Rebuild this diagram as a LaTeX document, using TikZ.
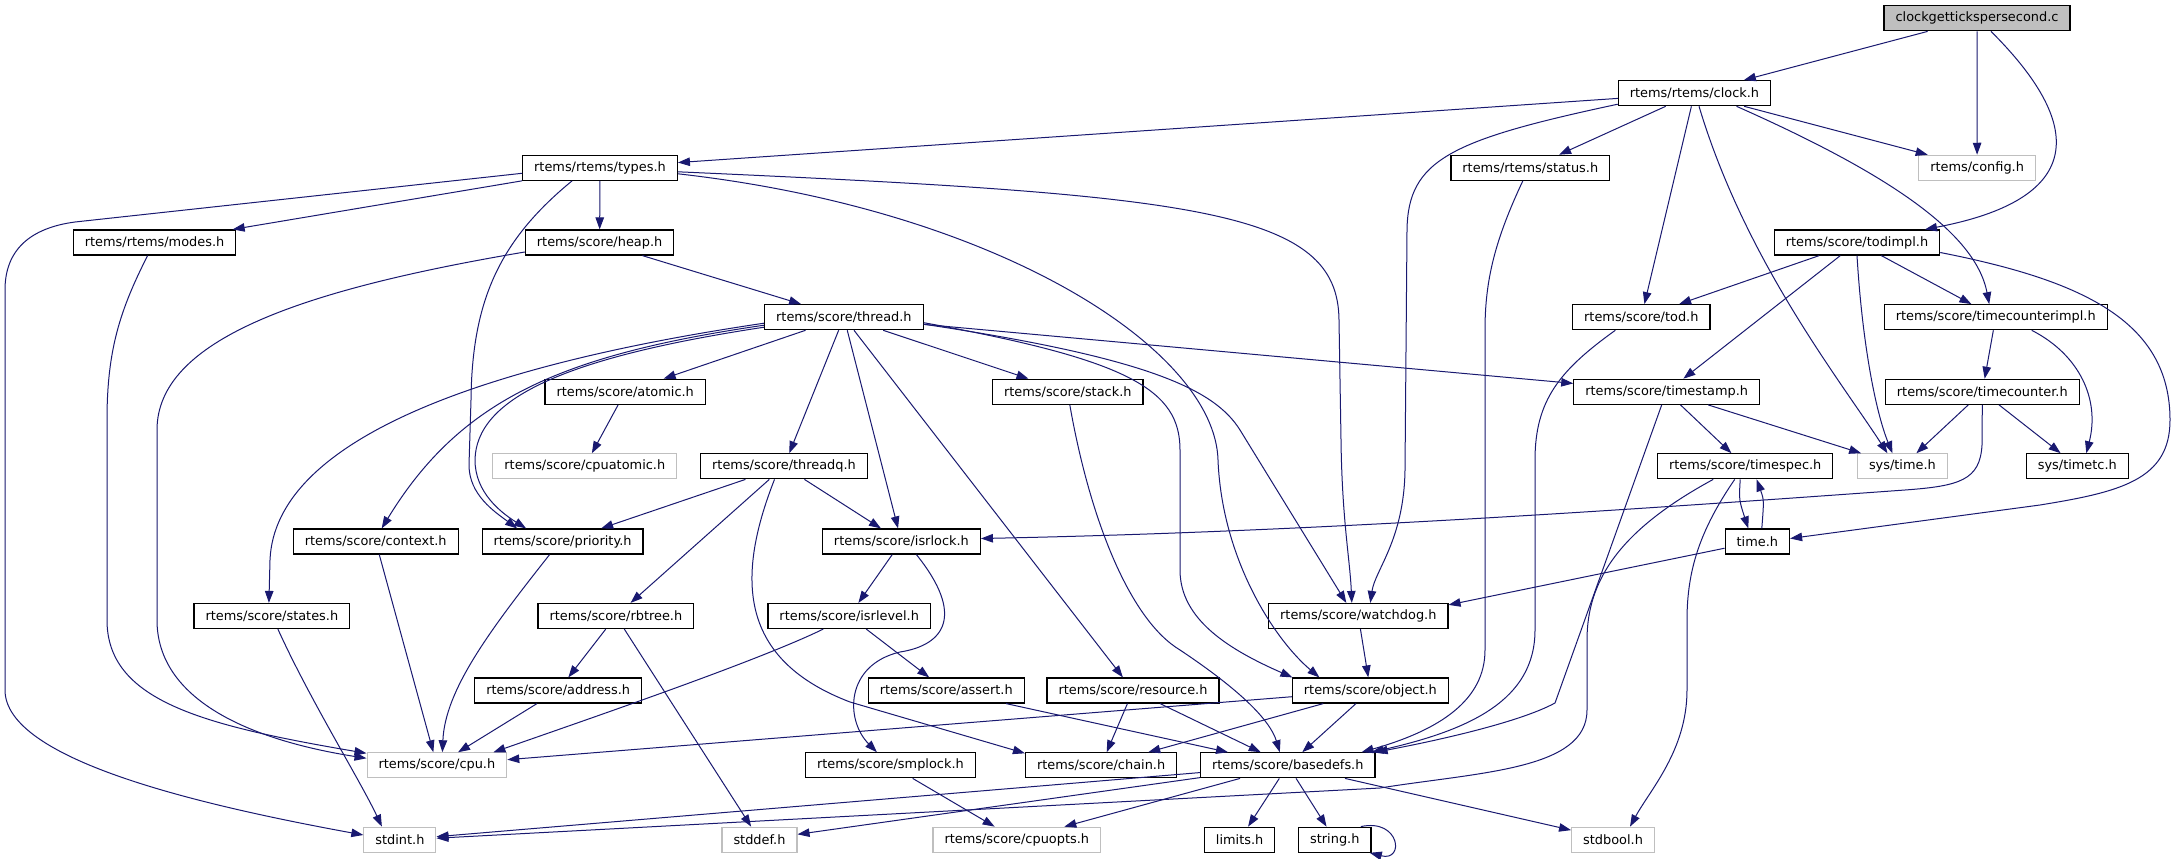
\documentclass[tikz,border=0pt]{standalone}
\usepackage{fontspec}
\setmainfont{DejaVu Sans}
\usetikzlibrary{arrows.meta}
\definecolor{edgeblue}{HTML}{191970}
\definecolor{grey75}{HTML}{BFBFBF}
\tikzset{
	file/.style={rectangle,draw=black,line width=1.2pt,fill=white,minimum height=25pt,inner xsep=11.5pt,inner ysep=0pt,font=\fontsize{12.9pt}{15pt}\selectfont},
	extfile/.style={draw=grey75,line width=1.1pt},
	mainfile/.style={fill=grey75},
	dep/.style={draw=edgeblue,line width=1pt,-{Triangle[length=12pt,width=8.5pt]}}
}
\begin{document}
\begin{tikzpicture}[x=1pt,y=-1pt]
			\path[fill=white] (0,0) rectangle (2176,859);
			\useasboundingbox (0,0) rectangle (2176,859);
			
			\begin{scope}[every node/.style={file}]
				\node[mainfile] (Ticks) at (1977,18.3) {clockgettickspersecond.c};
				\node (Clock) at (1694.5,93.2) {rtems/rtems/clock.h};
				\node (Types) at (600,167.8) {rtems/rtems/types.h};
				\node (Status) at (1530.3,167.8) {rtems/rtems/status.h};
				\node[extfile] (Config) at (1977.1,167.8) {rtems/config.h};
				\node (Modes) at (154.6,242.5) {rtems/rtems/modes.h};
				\node (Heap) at (599.6,242.5) {rtems/score/heap.h};
				\node (Todimpl) at (1857,242.5) {rtems/score/todimpl.h};
				\node (Thread) at (843.9,317.2) {rtems/score/thread.h};
				\node (Tod) at (1641.3,317.2) {rtems/score/tod.h};
				\node (TcImpl) at (1995.7,317.2) {rtems/score/timecounterimpl.h};
				\node (Atomic) at (625.2,391.8) {rtems/score/atomic.h};
				\node (Stack) at (1067.8,391.8) {rtems/score/stack.h};
				\node (Timestamp) at (1666.7,391.8) {rtems/score/timestamp.h};
				\node (Tcounter) at (1982.3,391.8) {rtems/score/timecounter.h};
				\node[extfile] (Cpuatomic) at (584.8,466.3) {rtems/score/cpuatomic.h};
				\node (Threadq) at (784,466.3) {rtems/score/threadq.h};
				\node (Timespec) at (1745.2,466.3) {rtems/score/timespec.h};
				\node[extfile] (Systime) at (1902.4,466.3) {sys/time.h};
				\node (Timetc) at (2077.3,466.3) {sys/timetc.h};
				\node (Context) at (375.7,541.5) {rtems/score/context.h};
				\node (Priority) at (562.6,541.5) {rtems/score/priority.h};
				\node (Isrlock) at (901.4,541.5) {rtems/score/isrlock.h};
				\node (Timeh) at (1757.3,541.5) {time.h};
				\node (States) at (271.9,616) {rtems/score/states.h};
				\node (Rbtree) at (615.9,616) {rtems/score/rbtree.h};
				\node (Isrlevel) at (849.2,616) {rtems/score/isrlevel.h};
				\node (Watchdog) at (1358.3,616) {rtems/score/watchdog.h};
				\node (Address) at (558.2,690.5) {rtems/score/address.h};
				\node (Assert) at (946.3,690.5) {rtems/score/assert.h};
				\node (Resource) at (1133,690.5) {rtems/score/resource.h};
				\node (Object) at (1370.4,690.5) {rtems/score/object.h};
				\node[extfile] (Cpu) at (436.9,765.3) {rtems/score/cpu.h};
				\node (Smplock) at (890.4,765.3) {rtems/score/smplock.h};
				\node (Chain) at (1101.1,765.3) {rtems/score/chain.h};
				\node (Basedefs) at (1287.8,765.3) {rtems/score/basedefs.h};
				\node[extfile] (Stdint) at (399.9,839.7) {stdint.h};
				\node[extfile] (Stddef) at (759.5,839.7) {stddef.h};
				\node[extfile] (Cpuopts) at (1016.8,839.7) {rtems/score/cpuopts.h};
				\node (Limits) at (1239.6,839.7) {limits.h};
				\node (String) at (1334.8,839.7) {string.h};
				\node[extfile] (Stdbool) at (1613,839.7) {stdbool.h};
			\end{scope}
			
			\begin{scope}[every edge/.style={dep}]
				\path (Ticks) edge (Clock);
				\path (Ticks) edge (Config);
				\path (Clock) edge (Types);
				\path (Clock) edge (Status);
				\path (Clock) edge (Config);
				\path (Clock) edge (Tod);
				\path (Types) edge (Modes);
				\path (Types) edge (Heap);
				\path (Heap) edge (Thread);
				\path (Todimpl) edge (Tod);
				\path (Todimpl) edge (Timestamp);
				\path (Todimpl) edge (TcImpl);
				\path (Thread) edge (Atomic);
				\path (Thread) edge (Stack);
				\path (Thread) edge (Threadq);
				\path (Thread) edge (Isrlock);
				\path (Thread) edge (Resource);
				\path (Thread) edge (Timestamp);
				\path (TcImpl) edge (Tcounter);
				\path (Tcounter) edge (Systime);
				\path (Tcounter) edge (Timetc);
				\path (Timestamp) edge (Timespec);
				\path (Timestamp) edge (Systime);
				\path (Atomic) edge (Cpuatomic);
				\path (Threadq) edge (Priority);
				\path (Threadq) edge (Rbtree);
				\path (Threadq) edge (Isrlock);
				\path (Isrlock) edge (Isrlevel);
				\path (Isrlevel) edge (Assert);
				\path (Rbtree) edge (Address);
				\path (Rbtree) edge (Stddef);
				\path (Address) edge (Cpu);
				\path (Context) edge (Cpu);
				\path (Object) edge (Cpu);
				\path (Object) edge (Chain);
				\path (Object) edge (Basedefs);
				\path (Watchdog) edge (Object);
				\path (Resource) edge (Chain);
				\path (Resource) edge (Basedefs);
				\path (Assert) edge (Basedefs);
				\path (Smplock) edge (Cpuopts);
				\path (Basedefs) edge (Stdint);
				\path (Basedefs) edge (Stddef);
				\path (Basedefs) edge (Cpuopts);
				\path (Basedefs) edge (Limits);
				\path (Basedefs) edge (String);
				\path (Basedefs) edge (Stdbool);
				\path (Timeh) edge ([yshift=-2pt]Watchdog.north east);
			\end{scope}
			
			% curved dependencies
			\draw[dep] ([xshift=14pt]Ticks.south) .. controls (2090,130) and (2080,200) .. ([xshift=68pt]Todimpl.north);
			\draw[dep] ([xshift=4.5pt]Clock.south) .. controls (1745,260) and (1840,380) .. ([xshift=-15pt]Systime.north);
			\draw[dep] ([xshift=42pt]Clock.south) .. controls (1880,170) and (1975,230) .. ([xshift=-6.5pt]TcImpl.north);
			\draw[dep] ([yshift=-11pt]Clock.west) .. controls (1450,140) and (1408,160) .. (1407,230) -- (1405,470) .. controls (1404,540) and (1375,570) .. ([xshift=12pt]Watchdog.north);
			\draw[dep] (Todimpl.south) .. controls (1862,340) and (1875,410) .. ([xshift=-10pt]Systime.north);
			\draw[dep] ([yshift=-10pt]Todimpl.east) .. controls (2080,280) and (2170,320) .. (2170,420) .. controls (2170,480) and (2120,492) .. (2040,505) -- ([yshift=3pt]Timeh.east);
			\draw[dep] ([yshift=-5.5pt]Types.west) -- (75,222) .. controls (30,228) and (5,250) .. (5,290) -- (5,690) .. controls (5,760) and (200,805) .. ([yshift=4.7pt]Stdint.west);
			\draw[dep] ([xshift=-28pt]Types.south) .. controls (500,240) and (472,300) .. (471,400) -- (469,465) .. controls (469,495) and (495,512) .. ([xshift=-45.5pt]Priority.north);
			\draw[dep] ([yshift=-4pt]Types.east) .. controls (1200,195) and (1338,210) .. (1339,320) -- (1341,440) .. controls (1342,520) and (1350,560) .. ([xshift=-6.5pt]Watchdog.north);
			\draw[dep] ([yshift=-6pt]Types.east) .. controls (1000,210) and (1215,350) .. (1218,460) .. controls (1222,560) and (1275,640) .. ([xshift=-51pt]Object.north);
			\draw[dep] ([yshift=-9.5pt]Heap.west) .. controls (300,290) and (157,340) .. (157,430) -- (157,620) .. controls (157,700) and (250,740) .. ([yshift=7pt]Cpu.west);
			\draw[dep] ([xshift=-7pt]Modes.south) .. controls (120,310) and (107,350) .. (107,420) -- (107,620) .. controls (107,700) and (200,725) .. ([yshift=12pt]Cpu.west);
			\draw[dep] ([yshift=-7pt]Thread.east) .. controls (1150,358) and (1215,390) .. (1240,430) -- ([xshift=-12pt]Watchdog.north);
			\draw[dep] ([yshift=-5.5pt]Thread.east) .. controls (1130,360) and (1180,390) .. (1180,450) -- (1180,570) .. controls (1180,620) and (1230,650) .. ([xshift=-78pt]Object.north);
			\draw[dep] ([yshift=-6pt]Thread.west) .. controls (480,365) and (275,440) .. (270,560) -- ([xshift=-3pt]States.north);
			\draw[dep] ([yshift=-8pt]Thread.west) .. controls (560,355) and (460,400) .. ([xshift=6pt]Context.north);
			\draw[dep] ([yshift=-10pt]Thread.west) .. controls (560,358) and (476,400) .. (475,460) .. controls (475,492) and (500,512) .. ([xshift=-36.5pt]Priority.north);
			\draw[dep] ([xshift=2pt]Stack.south) .. controls (1090,520) and (1130,620) .. (1180,650) .. controls (1240,690) and (1270,720) .. ([xshift=-8pt]Basedefs.north);
			\draw[dep] ([xshift=-9.5pt]Threadq.south) .. controls (735,580) and (740,660) .. (850,702) -- ([yshift=12pt]Chain.west);
			\draw[dep] ([xshift=15pt]Isrlock.south) .. controls (965,615) and (945,645) .. (900,652) .. controls (845,665) and (845,720) .. ([xshift=-13.5pt]Smplock.north);
			\draw[dep] ([xshift=-26pt]Isrlevel.south) .. controls (760,660) and (600,715) .. ([xshift=56.5pt]Cpu.north);
			\draw[dep] ([xshift=-13pt]Priority.south) .. controls (490,630) and (445,690) .. ([xshift=5.5pt]Cpu.north);
			\draw[dep] ([xshift=6pt]States.south) .. controls (310,700) and (360,780) .. ([xshift=-18pt]Stdint.north);
			\draw[dep] ([xshift=36pt]TcImpl.south) .. controls (2080,355) and (2100,400) .. ([xshift=9pt]Timetc.north);
			\draw[dep] (Tcounter.south) -- (1982,445) .. controls (1980,480) and (1960,486) .. (1905,490) .. controls (1600,512) and (1300,532) .. ([yshift=3pt]Isrlock.east);
			\draw[dep] ([xshift=-5pt]Timespec.south) .. controls (1739,500) .. ([xshift=-9pt]Timeh.north);
			\draw[dep] ([xshift=4.5pt]Timeh.north) .. controls (1764,500) .. ([xshift=11.5pt]Timespec.south);
			\draw[dep] ([xshift=-32pt]Timespec.south) .. controls (1620,530) and (1587,580) .. (1587,640) -- (1587,710) .. controls (1587,770) and (1480,772) .. (1380,788) -- ([yshift=1.5pt]Stdint.east);
			\draw[dep] ([xshift=-10.5pt]Timespec.south) .. controls (1700,530) and (1687,570) .. (1687,620) -- (1687,690) .. controls (1687,750) and (1650,790) .. ([xshift=17pt]Stdbool.north);
			\draw[dep] ([xshift=-26pt]Tod.south) .. controls (1560,370) and (1535,400) .. (1535,460) -- (1535,630) .. controls (1535,700) and (1470,730) .. ([xshift=-4pt]Basedefs.north east);
			\draw[dep] ([xshift=-7.5pt]Status.south) .. controls (1495,240) and (1485,280) .. (1485,330) -- (1485,650) .. controls (1485,700) and (1440,730) .. ([xshift=-14pt]Basedefs.north east);
			\draw[dep] ([xshift=-5pt]Timestamp.south) -- (1555,703) .. controls (1520,722) and (1440,740) .. (Basedefs.north east);
			\draw[dep] ([xshift=26pt]String.north) .. controls (1400,818) and (1405,862) .. ([xshift=35pt]String.south);
		\end{tikzpicture}
\end{document}
